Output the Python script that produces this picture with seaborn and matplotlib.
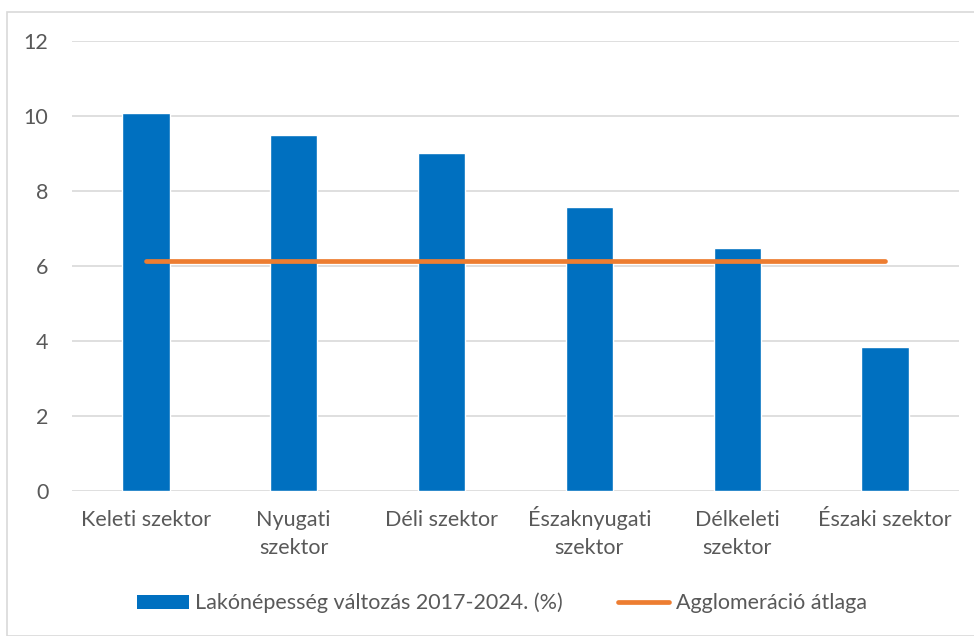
import pandas as pd
import seaborn as sns
import matplotlib.pyplot as plt
from matplotlib.lines import Line2D
from matplotlib.patches import Patch, Rectangle
from matplotlib.transforms import offset_copy

# adatok
szektorok = ['Keleti szektor', 'Nyugati\nszektor', 'Déli szektor',
             'Északnyugati\nszektor', 'Délkeleti\nszektor', 'Északi szektor']
valtozas = [10.07, 9.49, 9.0, 7.56, 6.48, 3.83]
atlag = [6.12, 6.12, 6.12, 6.12, 6.12, 6.12]
y_ticks = [0, 2, 4, 6, 8, 10, 12]

df = pd.DataFrame({'szektor': szektorok, 'valtozas': valtozas, 'atlag': atlag})

kek = '#0070C0'
narancs = '#ED7D31'
szurke = '#595959'
betu = 15.5

sns.set_theme(style='white')
plt.rcParams['font.family'] = ['Lato', 'DejaVu Sans']

fig = plt.figure(figsize=(9.74, 6.36), dpi=100)
ax = fig.add_axes([72 / 974, 1 - 490.7 / 636, 887 / 974, 450 / 636])

sns.barplot(data=df, x='szektor', y='valtozas', color=kek, width=0.32,
            saturation=1, ax=ax, zorder=2)
ax.plot(range(len(szektorok)), df['atlag'], color=narancs, lw=3.4,
        solid_capstyle='round', zorder=3)

ax.set_xlim(-0.5, len(szektorok) - 0.5)
ax.set_ylim(0, 12)
ax.set_yticks(y_ticks)
ax.set_xlabel('')
ax.set_ylabel('')
ax.grid(axis='y', color='#D9D9D9', lw=1.2, zorder=0)
ax.grid(axis='x', visible=False)
for s in ax.spines.values():
    s.set_visible(False)
ax.tick_params(axis='x', length=0, labelbottom=False)
ax.tick_params(axis='y', length=0, pad=17, labelsize=betu, labelcolor=szurke)

# kategóriacímkék soronként, közös alapvonallal (mint az Excelben)
for i, nev in enumerate(szektorok):
    for k, sor in enumerate(nev.split('\n')):
        tr = offset_copy(ax.get_xaxis_transform(), fig=fig, x=0, y=-25.2 - 20.2 * k, units='points')
        ax.text(i, 0, sor, transform=tr, ha='center', va='baseline',
                fontsize=betu, color=szurke)

handles = [Patch(facecolor=kek, edgecolor='none'),
           Line2D([0], [0], color=narancs, lw=3.4, solid_capstyle='round')]
fig.legend(handles, ['Lakónépesség változás 2017-2024. (%)', 'Agglomeráció átlaga'],
           loc='center', bbox_to_anchor=(502 / 974, 1 - 603 / 636), ncol=2,
           frameon=False, fontsize=betu, labelcolor=szurke,
           handlelength=2.4, handleheight=0.65, handletextpad=0.28, columnspacing=2.55)

# keret
fig.patches.append(Rectangle((7 / 974, 0), 1.0, 1 - 12 / 636, transform=fig.transFigure,
                             fill=False, edgecolor='#D9D9D9', lw=1.2, zorder=0))

fig.savefig('out.png', dpi=100)
